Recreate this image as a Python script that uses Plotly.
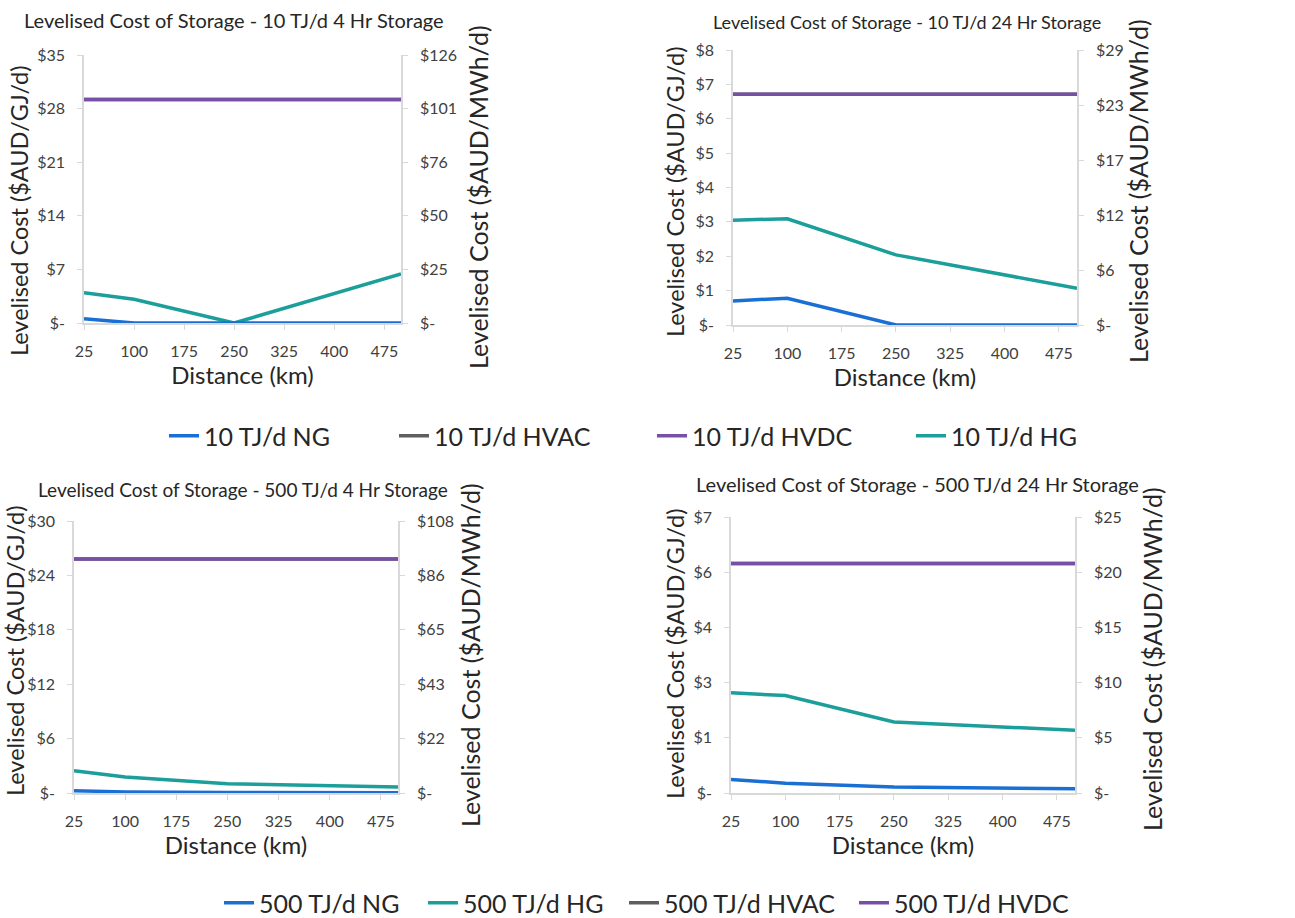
import plotly.graph_objects as go

# ---------------- data ----------------
distance_km = [25, 100, 250, 500]
x_ticks = [25, 100, 175, 250, 325, 400, 475]

# 10 TJ/d, 4 Hr storage ($AUD/GJ/d)
ng_10_4 = [0.56, 0.0, 0.0, 0.0]
hvac_10_4 = [29.2, 29.2, 29.2, 29.2]
hvdc_10_4 = [29.2, 29.2, 29.2, 29.2]
hg_10_4 = [3.96, 3.1, 0.0, 6.4]

# 10 TJ/d, 24 Hr storage
ng_10_24 = [0.70, 0.78, 0.0, 0.0]
hvac_10_24 = [6.71, 6.71, 6.71, 6.71]
hvdc_10_24 = [6.71, 6.71, 6.71, 6.71]
hg_10_24 = [3.05, 3.09, 2.04, 1.07]

# 500 TJ/d, 4 Hr storage
ng_500_4 = [0.25, 0.12, 0.05, 0.03]
hg_500_4 = [2.46, 1.76, 1.02, 0.66]
hvac_500_4 = [25.8, 25.8, 25.8, 25.8]
hvdc_500_4 = [25.8, 25.8, 25.8, 25.8]

# 500 TJ/d, 24 Hr storage
ng_500_24 = [0.34, 0.25, 0.15, 0.11]
hg_500_24 = [2.54, 2.47, 1.80, 1.59]
hvac_500_24 = [5.82, 5.82, 5.82, 5.82]
hvdc_500_24 = [5.82, 5.82, 5.82, 5.82]

# axis tick labels
left_ticks_10_4 = ["$-", "$7", "$14", "$21", "$28", "$35"]
right_ticks_10_4 = ["$-", "$25", "$50", "$76", "$101", "$126"]
left_ticks_10_24 = ["$-", "$1", "$2", "$3", "$4", "$5", "$6", "$7", "$8"]
right_ticks_10_24 = ["$-", "$6", "$12", "$17", "$23", "$29"]
left_ticks_500_4 = ["$-", "$6", "$12", "$18", "$24", "$30"]
right_ticks_500_4 = ["$-", "$22", "$43", "$65", "$86", "$108"]
left_ticks_500_24 = ["$-", "$1", "$3", "$4", "$6", "$7"]
right_ticks_500_24 = ["$-", "$5", "$10", "$15", "$20", "$25"]

titles = [
    "Levelised Cost of Storage - 10 TJ/d 4 Hr Storage",
    "Levelised Cost of Storage - 10 TJ/d 24 Hr Storage",
    "Levelised Cost of Storage - 500 TJ/d 4 Hr Storage",
    "Levelised Cost of Storage - 500 TJ/d 24 Hr Storage",
]
x_title = "Distance (km)"
left_title = "Levelised Cost ($AUD/GJ/d)"
right_title = "Levelised Cost ($AUD/MWh/d)"

# ---------------- style ----------------
C_NG = "#1A6FD4"
C_HG = "#1C9E9B"
C_HVAC = "#5F5F5F"
C_HVDC = "#7750A6"
FONT = "Lato"
W, H = 1295, 918
LW = 3.5
TICK_SIZE = 16
AXT_SIZE = 24
LT_SIZE = 23.5
RT_SIZE = 25
LEG_SIZE = 25
TXT = "#262626"


def px(x):
    return x / W


def py(y):
    return 1 - y / H


panels = [
    dict(x0=84, x1=401, y0=55, y1=323, lmax=35, lticks=left_ticks_10_4,
         rmax=126, rticks=right_ticks_10_4, title_xy=(234, 20), title_size=20,
         lt_xy=(19, 211), rt_xy=(478, 197)),
    dict(x0=733, x1=1077, y0=50, y1=325, lmax=8, lticks=left_ticks_10_24,
         rmax=28.8, rticks=right_ticks_10_24, title_xy=(907, 22), title_size=18,
         lt_xy=(675, 192), rt_xy=(1138, 191)),
    dict(x0=74, x1=398, y0=521, y1=793, lmax=30, lticks=left_ticks_500_4,
         rmax=108, rticks=right_ticks_500_4, title_xy=(243, 490), title_size=19,
         lt_xy=(15, 651), rt_xy=(470, 655)),
    dict(x0=731, x1=1075, y0=517, y1=793, lmax=7, lticks=left_ticks_500_24,
         rmax=25, rticks=right_ticks_500_24, title_xy=(917, 484), title_size=20,
         lt_xy=(675, 654), rt_xy=(1152, 659)),
]

# legend entries: (legend id, text-start x, centre y)
legend_pos = {
    "10 TJ/d NG": ("legend", 205, 436),
    "10 TJ/d HVAC": ("legend2", 435, 436),
    "10 TJ/d HVDC": ("legend3", 693, 436),
    "10 TJ/d HG": ("legend4", 952, 436),
    "500 TJ/d NG": ("legend5", 260, 903),
    "500 TJ/d HG": ("legend6", 464, 903),
    "500 TJ/d HVAC": ("legend7", 665, 903),
    "500 TJ/d HVDC": ("legend8", 895, 903),
}

fig = go.Figure()


def add(i, y, name, color, show=True):
    xa = "x" if i == 0 else f"x{i+1}"
    ya = "y" if i == 0 else f"y{2*i+1}"
    fig.add_trace(go.Scatter(
        x=distance_km, y=y, name=name, mode="lines",
        line=dict(color=color, width=LW),
        xaxis=xa, yaxis=ya, legend=legend_pos[name][0],
        showlegend=show, hoverinfo="x+y+name"))


# 10 TJ/d panels
add(0, hvac_10_4, "10 TJ/d HVAC", C_HVAC)
add(0, hvdc_10_4, "10 TJ/d HVDC", C_HVDC)
add(0, hg_10_4, "10 TJ/d HG", C_HG)
add(0, ng_10_4, "10 TJ/d NG", C_NG)
add(1, hvac_10_24, "10 TJ/d HVAC", C_HVAC, False)
add(1, hvdc_10_24, "10 TJ/d HVDC", C_HVDC, False)
add(1, hg_10_24, "10 TJ/d HG", C_HG, False)
add(1, ng_10_24, "10 TJ/d NG", C_NG, False)
# 500 TJ/d panels
add(2, hvac_500_4, "500 TJ/d HVAC", C_HVAC)
add(2, hvdc_500_4, "500 TJ/d HVDC", C_HVDC)
add(2, hg_500_4, "500 TJ/d HG", C_HG)
add(2, ng_500_4, "500 TJ/d NG", C_NG)
add(3, hvac_500_24, "500 TJ/d HVAC", C_HVAC, False)
add(3, hvdc_500_24, "500 TJ/d HVDC", C_HVDC, False)
add(3, hg_500_24, "500 TJ/d HG", C_HG, False)
add(3, ng_500_24, "500 TJ/d NG", C_NG, False)

# empty traces so the secondary ($AUD/MWh/d) axes get drawn
for i in range(4):
    fig.add_trace(go.Scatter(
        x=[None], y=[None], mode="lines", showlegend=False, hoverinfo="skip",
        xaxis="x" if i == 0 else f"x{i+1}", yaxis=f"y{2*i+2}"))

layout = dict(
    width=W, height=H,
    margin=dict(l=0, r=0, t=0, b=0, autoexpand=False),
    paper_bgcolor="white", plot_bgcolor="white",
    font=dict(family=FONT, color=TXT, size=16),
    annotations=[],
)

for name, (lid, tx, ty) in legend_pos.items():
    layout[lid] = dict(
        orientation="h", x=px(tx - 41), xanchor="left", y=py(ty), yanchor="middle",
        font=dict(size=LEG_SIZE, family=FONT, color=TXT), itemwidth=30,
        bgcolor="rgba(0,0,0,0)")

axis_line = "#D9D9D9"
for i, p in enumerate(panels):
    xk = "xaxis" if i == 0 else f"xaxis{i+1}"
    ylk = "yaxis" if i == 0 else f"yaxis{2*i+1}"
    yrk = f"yaxis{2*i+2}"
    ya_name = "y" if i == 0 else f"y{2*i+1}"
    xa_name = "x" if i == 0 else f"x{i+1}"
    layout[xk] = dict(
        domain=[px(p["x0"]), px(p["x1"])], anchor=ya_name, range=[25, 500], tickvals=x_ticks,
        automargin=False,
        showgrid=False, zeroline=False, showline=True, linecolor=axis_line, linewidth=1.5,
        ticks="outside", ticklen=5, tickcolor=axis_line, ticklabelstandoff=8,
        tickfont=dict(size=TICK_SIZE, family=FONT, color="#404040"),
        title=dict(text=x_title, font=dict(size=AXT_SIZE, family=FONT, color=TXT), standoff=2),
    )
    n_l = len(p["lticks"])
    lvals = [p["lmax"] * k / (n_l - 1) for k in range(n_l)]
    layout[ylk] = dict(
        domain=[py(p["y1"]), py(p["y0"])], anchor=xa_name, range=[0, p["lmax"]],
        tickvals=lvals, ticktext=p["lticks"], automargin=False,
        showgrid=False, zeroline=False, showline=True, linecolor=axis_line, linewidth=1.5,
        ticks="outside", ticklen=5, tickcolor=axis_line, ticklabelstandoff=9,
        tickfont=dict(size=TICK_SIZE, family=FONT, color="#404040"),
    )
    n_r = len(p["rticks"])
    rvals = [p["rmax"] * k / (n_r - 1) for k in range(n_r)]
    layout[yrk] = dict(
        overlaying=ya_name, side="right", anchor=xa_name, range=[0, p["rmax"]],
        tickvals=rvals, ticktext=p["rticks"], automargin=False,
        showgrid=False, zeroline=False, showline=True, linecolor=axis_line, linewidth=1.5,
        ticks="outside", ticklen=5, tickcolor=axis_line, ticklabelstandoff=9,
        tickfont=dict(size=TICK_SIZE, family=FONT, color="#404040"),
    )
    tx, ty = p["title_xy"]
    layout["annotations"].append(dict(
        text=titles[i], x=px(tx), y=py(ty), xref="paper", yref="paper",
        xanchor="center", yanchor="middle", showarrow=False,
        font=dict(size=p["title_size"], family=FONT, color=TXT)))
    lx, ly = p["lt_xy"]
    layout["annotations"].append(dict(
        text=left_title, x=px(lx), y=py(ly), xref="paper", yref="paper", textangle=-90,
        xanchor="center", yanchor="middle", showarrow=False,
        font=dict(size=LT_SIZE, family=FONT, color=TXT)))
    rx, ry = p["rt_xy"]
    layout["annotations"].append(dict(
        text=right_title, x=px(rx), y=py(ry), xref="paper", yref="paper", textangle=-90,
        xanchor="center", yanchor="middle", showarrow=False,
        font=dict(size=RT_SIZE, family=FONT, color=TXT)))

fig.update_layout(**layout)
fig.write_html("out.html", config={"displayModeBar": False},
               post_script="document.body.style.margin='0px';")
